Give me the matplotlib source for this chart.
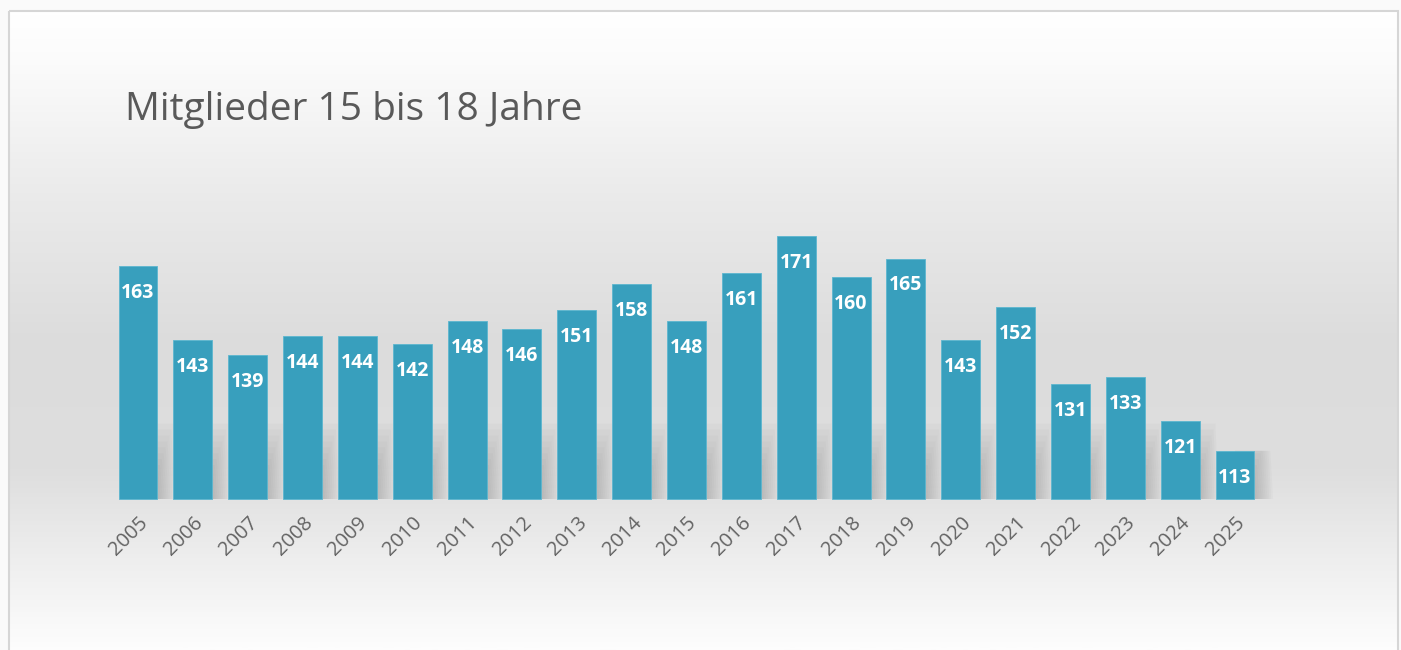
import numpy as np
import matplotlib.pyplot as plt
from matplotlib.colors import LinearSegmentedColormap
from matplotlib.patches import Polygon, Rectangle

years = ['2005', '2006', '2007', '2008', '2009', '2010', '2011', '2012', '2013', '2014',
         '2015', '2016', '2017', '2018', '2019', '2020', '2021', '2022', '2023', '2024', '2025']
members = [163, 143, 139, 144, 144, 142, 148, 146, 151, 158,
           148, 161, 171, 160, 165, 143, 152, 131, 133, 121, 113]

title = 'Mitglieder 15 bis 18 Jahre'
bar_color = '#389fbd'
text_grey = '#595959'
base = 100

fig = plt.figure(figsize=(14.01, 6.5), dpi=100)
fig.patch.set_facecolor('#fafafa')

# background with the grey band in the middle
bg = fig.add_axes([0, 0, 1, 1])
bg.set_xlim(0, 1401)
bg.set_ylim(650, 0)
bg.axis('off')
stops = [(0.0, '#ffffff'), (0.08, '#fbfbfb'), (0.28, '#ebebeb'),
         (0.52, '#dcdcdc'), (0.72, '#dedede'), (0.86, '#eeeeee'), (1.0, '#fdfdfd')]
cmap = LinearSegmentedColormap.from_list('bg', stops)
grad = np.linspace(0, 1, 300).reshape(-1, 1)
bg.imshow(grad, cmap=cmap, aspect='auto', extent=(10, 1397, 650, 12), zorder=0)
bg.add_patch(Rectangle((9, 11), 1389, 660, fill=False, edgecolor='#d6d6d6', lw=1.5, zorder=1))

# main axes, full figure so pixel mapping is easy
ax = fig.add_axes([0, 0, 1, 1])
ax.patch.set_alpha(0)
step = 54.85
x0 = 138
ax.set_xlim(-x0 / step, (1401 - x0) / step)
ppu = 3.7
ax.set_ylim(base - 151 / ppu, base + 499 / ppu)
ax.axis('off')

x = np.arange(len(years))
heights = [v - base for v in members]

# soft blurred shadows to the right of the bars
for xi, h in zip(x, heights):
    for k in range(10):
        reach = 0.38 + 0.035 * k
        sh = min(h, 6 + 1.6 * k)
        poly = Polygon([(xi, base), (xi + reach, base),
                        (xi + reach - 0.05, base + sh), (xi, base + sh)],
                       closed=True, facecolor='#444444', alpha=0.028, lw=0, zorder=2)
        ax.add_patch(poly)

bars = ax.bar(x, heights, bottom=base, width=0.71, color=bar_color, zorder=3,
              edgecolor='#5cb6cf', linewidth=0.6)

for xi, v in zip(x, members):
    ax.text(xi, v - 27 / ppu, str(v), ha='center', va='center', color='white',
            fontsize=14, fontweight='bold', family='Open Sans', zorder=4)

for xi, lab in zip(x, years):
    ax.text(xi + 0.0, base - 14 / ppu, lab, ha='right', va='top', rotation=45,
            rotation_mode='anchor', color='#636363', fontsize=14.5, family='Open Sans')

fig.text(125 / 1401, 1 - 110 / 650, title, ha='left', va='center',
         color=text_grey, fontsize=28, family='Open Sans')

fig.savefig('out.png', dpi=100, facecolor=fig.get_facecolor())
